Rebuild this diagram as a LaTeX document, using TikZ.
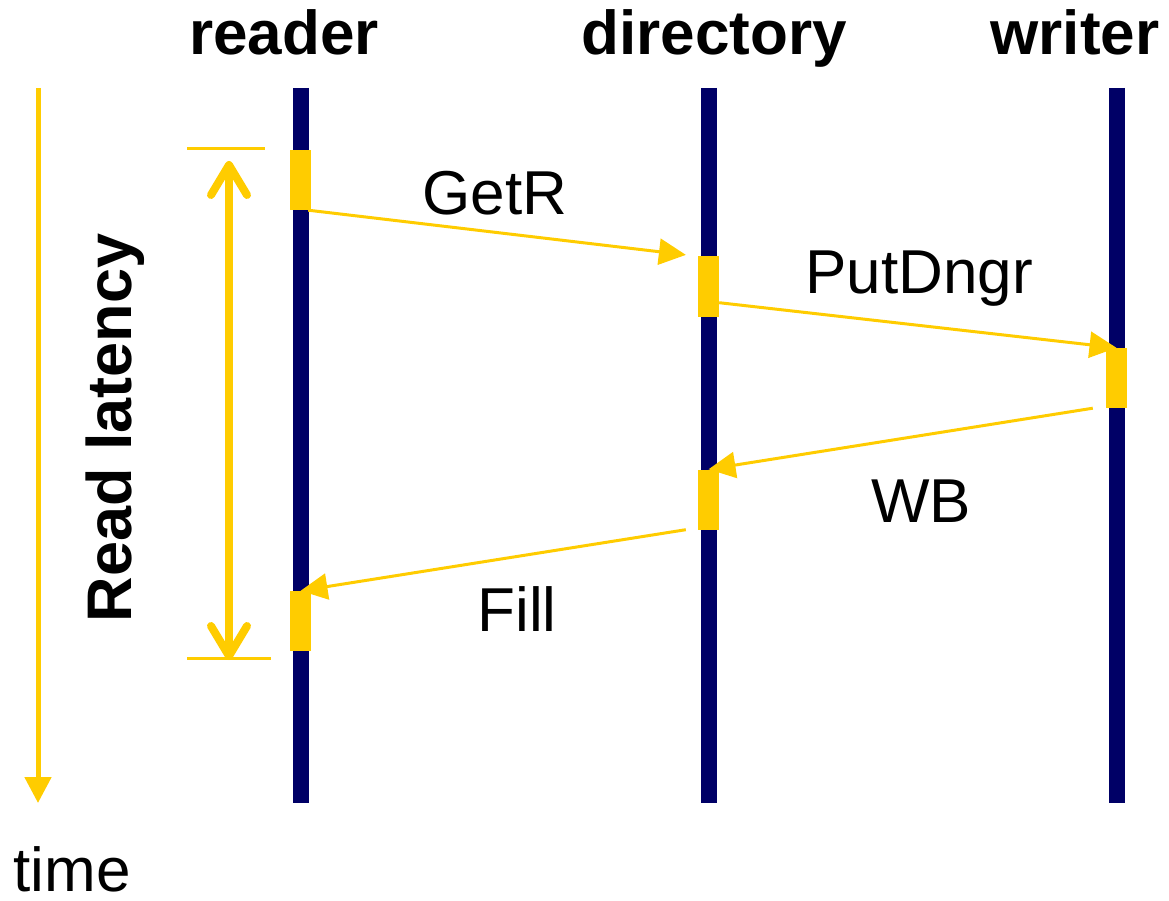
\documentclass[tikz,border=0pt]{standalone}
\usepackage{fontspec}
\setmainfont{Liberation Sans}
\usetikzlibrary{arrows.meta}
\definecolor{gold}{HTML}{FFCC00}
\definecolor{navy}{HTML}{000066}
\tikzset{
  lbl/.style={font=\fontsize{62}{70}\selectfont, inner sep=0pt, anchor=base},
  hdr/.style={lbl, font=\fontsize{62}{70}\selectfont\bfseries},
  lifeline/.style={draw=navy, line width=16pt},
  actbox/.style={rectangle, fill=gold, draw=none, minimum width=21pt, minimum height=60pt, inner sep=0pt},
  msg/.style={draw=gold, line width=3pt, -{Triangle[length=27pt, width=26pt]}},
  span/.style={draw=gold, line width=8pt, {Straight Barb[length=30pt, width=36pt, round]}-{Straight Barb[length=30pt, width=36pt, round]}},
  tick/.style={draw=gold, line width=3pt},
}
\begin{document}
\begin{tikzpicture}[x=1pt, y=-1pt]
\useasboundingbox (0,0) rectangle (1169,901);

% column headings
\node[hdr] (hreader) at (284,55) {reader};
\node[hdr] (hdir) at (714,55) {directory};
\node[hdr] (hwriter) at (1075,55) {writer};

% lifelines
\coordinate (rtop) at (300.5,88);  \coordinate (rbot) at (300.5,803);
\coordinate (dtop) at (708.5,88);  \coordinate (dbot) at (708.5,803);
\coordinate (wtop) at (1116.5,88); \coordinate (wbot) at (1116.5,803);
\draw[lifeline] (rtop) -- (rbot);
\draw[lifeline] (dtop) -- (dbot);
\draw[lifeline] (wtop) -- (wbot);

% activation boxes
\node[actbox] (r1) at (300.5,180) {};
\node[actbox] (d1) at (708.5,286.5) {};
\node[actbox] (w1) at (1116.5,378) {};
\node[actbox] (d2) at (708.5,499.5) {};
\node[actbox] (r2) at (300.5,621) {};

% messages
\draw[msg, shorten >=12pt] ([xshift=-3pt]r1.south east) -- (d1.north west);
\draw[msg] ([yshift=14pt]d1.south east) -- (w1.north);
\draw[msg] ([xshift=-13pt]w1.south west) -- (d2.north);
\draw[msg] ([xshift=-12pt]d2.south west) -- (r2.north);

\node[lbl] (lgetr) at (495,215) {GetR};
\node[lbl] (lput) at (919,293) {PutDngr};
\node[lbl] (lwb) at (921,522) {WB};
\node[lbl] (lfill) at (517,631) {Fill};

% read latency span
\coordinate (ttl) at (187,149); \coordinate (ttr) at (265,149);
\coordinate (tbl) at (187,658); \coordinate (tbr) at (271,658);
\draw[tick] (ttl) -- (ttr);
\draw[tick] (tbl) -- (tbr);
\coordinate (spantop) at (229,161);
\coordinate (spanbot) at (229,660);
\draw[span] (spantop) -- (spanbot);
\node[hdr, rotate=90, font=\fontsize{63}{70}\selectfont\bfseries] (lat) at (131,428) {Read latency};

% time axis
\coordinate (ttop) at (38,88);
\coordinate (tbot) at (38,803);
\draw[draw=gold, line width=5pt, -{Triangle[length=26pt, width=26pt]}] (ttop) -- (tbot);
\node[lbl] (ltime) at (72,891) {time};
\end{tikzpicture}
\end{document}
